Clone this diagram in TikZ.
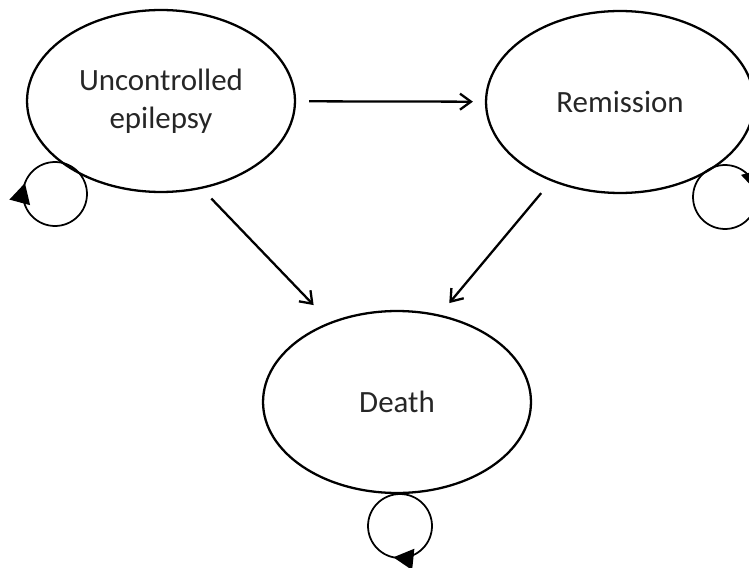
\documentclass[tikz,border=0pt]{standalone}
\usepackage{fontspec}
\setmainfont{Carlito}
\usetikzlibrary{shapes.geometric,arrows.meta,calc}

\begin{document}
\begin{tikzpicture}[
    x=0.02cm, y=-0.02cm,
    state/.style={ellipse, draw, line width=1.3pt, minimum width=5.36cm, minimum height=3.64cm, inner sep=0pt, align=center, text=black!85, font=\fontsize{17.6}{21.6}\selectfont},
    arrow/.style={-{Straight Barb[length=0.22cm, width=0.32cm]}, line width=1.3pt},
    selfloop/.style={line width=1pt},
    loophead/.style={-{Triangle[length=0.4cm, width=0.42cm]}, line width=1pt}
]
\useasboundingbox (0,0) rectangle (749,567);

% States
\node[state] (unc) at (161,101) {Uncontrolled\\epilepsy};
\node[state] (rem) at (620,102) {Remission};
\node[state] (death) at (397,402) {Death};

% Transitions
\draw[arrow, shorten <=0.26cm, shorten >=0.24cm] (unc) -- (rem);
\draw[arrow, shorten <=0.27cm, shorten >=0.47cm] (unc.-65) -- (death.130);
\draw[arrow, shorten <=0.31cm, shorten >=0.3cm] (rem.-131) -- (death.64);

% Self loops
\coordinate (uncloop) at ($(unc.center)+(-106,93)$);
\coordinate (remloop) at ($(rem.center)+(105,95)$);
\coordinate (deathloop) at ($(death.center)+(3,124)$);

\draw[selfloop] (uncloop) circle[radius=0.64cm];
\draw[loophead] ([shift={(170:0.64cm)}]uncloop) -- ([shift={(160:0.64cm)}]uncloop);

\draw[selfloop] (remloop) circle[radius=0.64cm];
\draw[loophead] ([shift={(20:0.64cm)}]remloop) -- ([shift={(10:0.64cm)}]remloop);

\draw[selfloop] (deathloop) circle[radius=0.64cm];
\draw[loophead] ([shift={(-90:0.64cm)}]deathloop) -- ([shift={(-102:0.64cm)}]deathloop);

\end{tikzpicture}
\end{document}
